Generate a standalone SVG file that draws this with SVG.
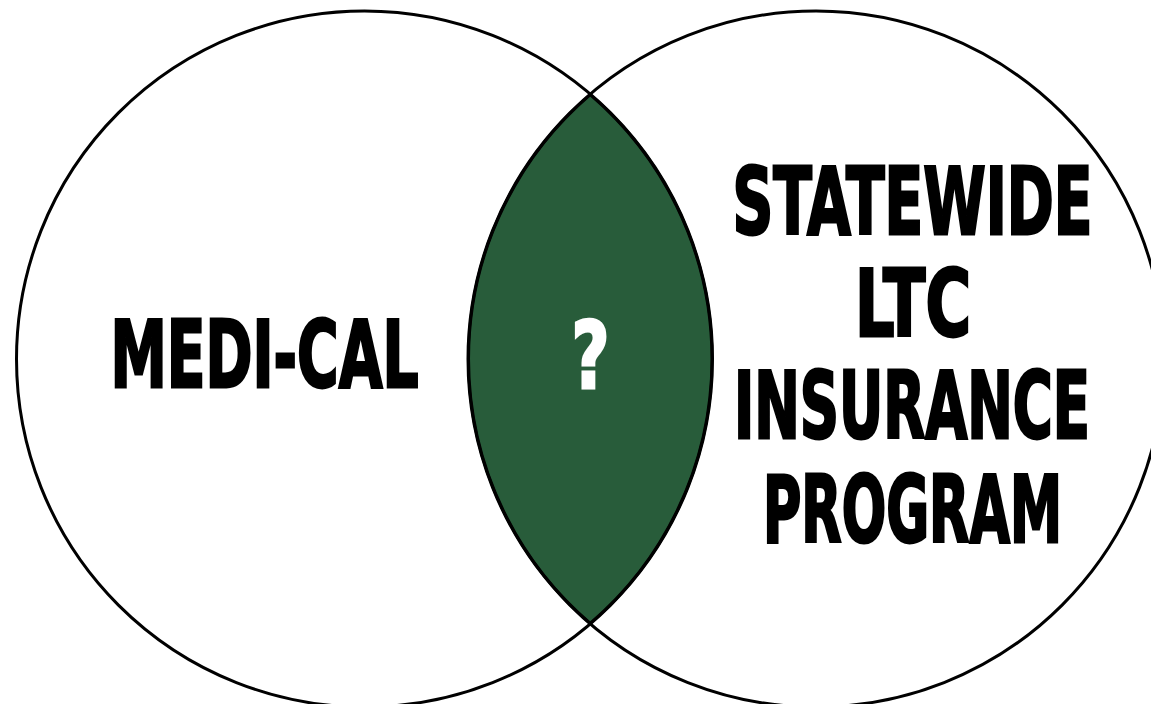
<svg xmlns="http://www.w3.org/2000/svg" width="1151" height="704" viewBox="0 0 1151 704">
  <style>
    .ring { fill: none; stroke: #000; stroke-width: 3; }
    .lens { fill: #285c3a; stroke: #000; stroke-width: 3; stroke-linejoin: miter; }
    .label { font-family: "Liberation Sans Narrow", "DejaVu Sans Condensed", "Liberation Sans", sans-serif; font-weight: bold; font-size: 93px; fill: #000; stroke: #000; stroke-width: 2.8; stroke-linejoin: miter; text-anchor: middle; }
    .mark { fill: #fff; stroke: #fff; }
  </style>
  <rect width="1151" height="704" fill="#fff"/>

  <!-- overlap of the two sets -->
  <g id="overlap">
    <path class="lens" d="M 590.25 94.6 A 348 348 0 0 0 590.25 623.4 A 348 348 0 0 0 590.25 94.6 Z"/>
    <g transform="translate(590.5 388) scale(0.66 1)">
      <text class="label mark" x="0" y="0" textLength="57.6" lengthAdjust="spacingAndGlyphs">?</text>
    </g>
  </g>

  <!-- left set -->
  <g id="medi-cal">
    <circle class="ring" cx="364.5" cy="359" r="348"/>
    <g transform="translate(264.5 387) scale(0.66 1)">
      <text class="label" x="0" y="0" textLength="466.7" lengthAdjust="spacingAndGlyphs">MEDI-CAL</text>
    </g>
  </g>

  <!-- right set: four stacked lines, condensed horizontally -->
  <g id="statewide-ltc">
    <circle class="ring" cx="816" cy="359" r="348"/>
    <g transform="translate(912.5 234) scale(0.66 1)">
      <text class="label" x="0" y="0" textLength="545.5" lengthAdjust="spacingAndGlyphs">STATEWIDE</text>
    </g>
    <g transform="translate(913 336) scale(0.66 1)">
      <text class="label" x="0" y="0" textLength="175.8" lengthAdjust="spacingAndGlyphs">LTC</text>
    </g>
    <g transform="translate(912 438) scale(0.66 1)">
      <text class="label" x="0" y="0" textLength="539.4" lengthAdjust="spacingAndGlyphs">INSURANCE</text>
    </g>
    <g transform="translate(912.5 542) scale(0.66 1)">
      <text class="label" x="0" y="0" textLength="453" lengthAdjust="spacingAndGlyphs">PROGRAM</text>
    </g>
  </g>
</svg>
